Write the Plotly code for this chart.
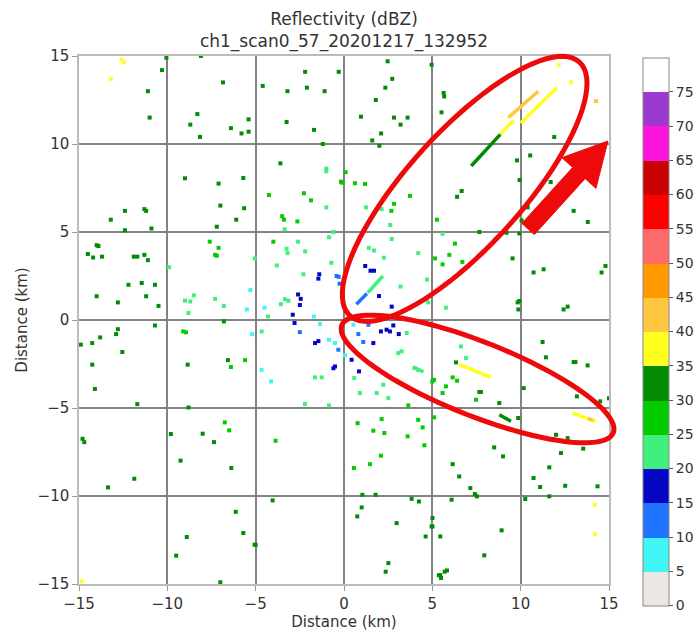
import numpy as np
import plotly.graph_objects as go

# ---------------- data ----------------
title_lines = ["Reflectivity (dBZ)", "ch1_scan0_57_20201217_132952"]
axis_label = "Distance (km)"
tick_vals = [-15, -10, -5, 0, 5, 10, 15]
cbar_ticks = [0, 5, 10, 15, 20, 25, 30, 35, 40, 45, 50, 55, 60, 65, 70, 75]

# colour bands, each 5 dBZ wide from 0 to 80
band_colors = ["#ebe7e2", "#3ff5f5", "#1f74ff", "#0505c4", "#40f07c", "#00cc00",
               "#038c03", "#ffff22", "#ffc640", "#ff9900", "#ff6a6a", "#ff0000",
               "#c80000", "#ff14dc", "#9a3ad0", "#ffffff"]

# gate positions (km) and reflectivity (dBZ)
pt_x = [-12.6, -12.45, -13.2, -10.05, -10.3, -11.1, -11.0, -6.85, -8.3, -8.7, -8.15, -6.4, -5.8, -5.4, -5.4, -8.1,
        -9.0, -7.1, -5.7, -7.0, -5.65, -6.1, -7.2, -12.4, -11.3, -11.2, -13.2, -12.4, -10.9,
        -14.0, -13.9, -14.5, -14.2, -13.7, -11.9, -11.7, -11.3, -11.1, -12.2, -11.45, -10.7, -14.0, -12.8, -11.2, -10.5,
        -7.6, -7.1, -7.3, -7.2, -9.9, -5.05, -8.5, -9.0, -8.7, -7.3, -6.8, -8.8, -5.3, -5.5,
        -4.6, -2.2, -0.3, -3.2, -2.1, -1.1, -3.25, -1.7, 2.47, 2.73, 2.34, 1.8, 0.96, 2.83, 3.6, 3.2, 2.1, 1.6, 2.0, 4.96,
        -1.2, -3.6, -1.0, -1.0, 0.09, -0.17, -0.1, 0.62, 1.19, -4.25, -2.27, -1.87, -1.0, 3.73, 2.83, 2.13, 2.68, 1.24,
        -3.5, -3.4, -2.64, -3.36, -0.6, 2.62, -4.0, -2.6, -0.85, -3.25, -3.2, -2.2, -3.8, -2.3, 2.7, 1.4, 1.7, 2.26,
        4.2, 4.7, 3.2, -0.72, 1.2, 1.5, 1.7, -1.4, -1.45, -0.42, -0.3, -0.25, -2.6, -2.45, -2.5, -2.9, -1.7, 1.98, 2.7,
        -3.34, -3.15, -3.57, -4.3, -4.5, 4.77,
        12.15, 12.85, 14.26, 5.64, 5.67, 5.52, 11.9, 10.54, 9.79, 9.94, 11.7, 6.66, 6.4, 10.4, 13.0, 13.8, 10.05, 5.26,
        7.66, 9.2, 9.92, 5.58, 6.28, 5.96, 5.15, 5.58, 6.7, 9.54, 10.73, 11.3, 14.8, 14.58, 9.92, 9.83, 9.87, 12.43,
        12.66, 5.77,
        -14.9, -14.25, -13.8, -12.9, -12.8, -10.7, -12.55, -14.25, -14.1, -11.7, -9.1, -8.95, -6.8, -5.2, -8.85, -6.57,
        -5.6, -6.4, -8.8, -14.8, -14.7, -11.87, -13.36, -9.8, -8.0, -6.75, -6.5, -7.36, -9.25, -6.38, -6.13, -5.7,
        -5.06, -8.9, -9.5, -7.0, -14.85,
        -2.8, -2.5, -1.36, -1.64, -1.45, -0.85, -0.51, -0.32, 0.05, -0.51, -0.6, 0.43, 0.85, 0.53, 1.38, 0.81, 1.09,
        1.66, 2.09, 2.41, 2.6, 3.1, 2.79, 3.55, 3.07, 3.26, 4.0, 4.2, -4.66, -4.66, -4.13, -1.64, -1.26, 0.58, 0.9,
        1.85, 2.51, -2.21, -0.85, 2.22, 3.64, 0.77, 2.13, 1.66, 2.28, 4.2, 4.45, 3.6, 4.55, 2.09, 1.47, 0.56, -3.87,
        -4.04, 1.04, 1.79, 1.0, 0.75, 3.83, 4.24, 2.98, 4.96, 4.62, 2.51, -5.0, 2.36, 5.37, 5.7,
        11.24, 11.43, 13.0, 13.1, 13.79, 6.62, 6.9, 6.34, 5.0, 5.1, 6.15, 6.4, 5.77, 5.58, 7.66, 7.75, 7.47, 8.79,
        10.17, 13.18, 14.5, 15.0, 5.1, 9.86, 12.0, 12.66, 13.54, 12.28, 8.5, 9.0, 6.15, 11.62, 6.52, 10.73, 11.1,
        12.52, 14.35, 7.15, 7.41, 7.52, 6.09, 10.26, 11.62, 14.2, 14.2, 5.01, 5.01, 5.45, 8.92, 7.94, 5.83, 5.45, 5.49]
pt_y = [14.8, 14.65, 13.7, 14.9, 14.2, 13.0, 11.5, 13.5, 11.7, 11.1, 10.4, 10.9, 10.6, 11.4, 10.7, 15.0,
        8.05, 7.75, 8.07, 6.5, 6.35, 5.7, 5.3, 6.2, 6.3, 6.2, 5.7, 5.1, 5.2,
        4.25, 4.2, 3.75, 3.55, 3.6, 3.6, 3.6, 3.7, 3.4, 2.0, 2.1, 2.0, 1.35, 1.0, 1.35, 0.8,
        4.45, 4.1, 3.7, 3.65, 3.0, 3.5, 1.4, 1.1, 1.05, 1.2, 0.8, 0.4, 1.7, 0.6,
        13.3, 14.1, 14.1, 13.0, 13.2, 13.0, 11.25, 10.8, 14.7, 13.7, 13.2, 12.5, 11.55, 11.5, 11.5, 11.1, 10.6, 10.2, 9.9, 14.5,
        10.0, 8.9, 8.6, 8.45, 8.4, 7.86, 7.8, 7.77, 7.73, 7.1, 7.2, 6.8, 6.4, 7.05, 6.6, 6.3, 6.2, 6.4,
        5.9, 5.7, 5.6, 5.15, 5.0, 5.4, 4.45, 4.45, 4.7, 4.05, 3.8, 3.9, 3.1, 2.6, 4.6, 4.1, 3.95, 3.54,
        3.8, 2.3, 1.9, 3.25, 3.07, 2.8, 2.8, 2.6, 2.35, 2.5, 2.45, 2.06, 1.45, 1.2, 0.85, 0.3, 0.2, 1.36, 0.76,
        1.18, 1.1, 0.9, 0.2, 0.7, 1.0,
        14.5, 13.5, 12.44, 12.9, 12.7, 11.8, 10.4, 9.35, 9.07, 7.95, 7.84, 7.33, 7.0, 6.4, 6.2, 5.57, 5.66, 5.7,
        5.0, 4.96, 4.92, 4.9, 4.34, 3.7, 3.5, 3.16, 3.3, 3.5, 2.7, 2.88, 3.07, 2.7, 1.08, 1.0, 0.6, 0.6,
        0.76, 0.7,
        -1.4, -1.31, -0.99, -0.8, -0.52, -0.31, -1.82, -2.54, -3.92, -4.78, -0.65, -0.7, -0.08, -0.8, -2.54, -2.28,
        -2.28, -2.67, -4.97, -6.75, -6.94, -9.02, -9.51, -6.48, -6.46, -5.82, -6.27, -6.94, -7.99, -8.41, -10.9, -12.1,
        -12.77, -12.33, -13.39, -14.9, -14.85,
        -0.17, -0.69, -0.23, -1.31, -1.2, -1.12, -1.31, -1.69, -2.0, -2.64, -2.74, -2.26, -2.92, -0.27, -0.27, -0.8, -1.25,
        -1.31, -0.65, -0.55, -0.65, -0.8, -0.31, -0.74, -1.88, -1.78, -2.73, -2.83, -0.65, -2.83, -3.49, -3.26, -3.26, -3.3, -4.15,
        -4.15, -4.44, -4.78, -4.85, -3.68, -4.85, -5.86, -5.63, -6.29, -6.42, -5.67, -6.1, -6.61, -7.12, -7.71, -8.19, -8.41, -6.86,
        -10.25, -9.93, -9.93, -10.65, -11.16, -10.16, -10.31, -11.54, -11.73, -12.3, -13.81, -12.77, -14.3, -14.5, -14.3,
        -1.25, -2.12, -2.39, -2.39, -2.58, -1.5, -2.16, -2.41, -3.49, -3.4, -3.26, -3.45, -3.77, -4.15, -4.09, -4.09, -4.53, -4.72,
        -3.87, -4.34, -4.62, -4.44, -5.53, -5.57, -6.52, -6.71, -7.31, -7.56, -7.24, -7.75, -8.19, -8.37, -8.89, -8.98, -9.49,
        -9.42, -9.45, -9.55, -9.89, -10.02, -10.21, -10.17, -10.02, -10.5, -12.16, -11.25, -11.73, -12.3, -11.95, -13.37, -14.23, -14.5, -14.66]
pt_dbz = [38, 38, 38, 32, 32, 32, 32, 32, 32, 32, 32, 32, 32, 32, 32, 32,
          32, 32, 32, 32, 32, 32, 32, 32, 32, 32, 32, 32, 32,
          32, 32, 32, 32, 32, 32, 32, 32, 32, 32, 32, 32, 32, 32, 32, 32,
          27, 27, 27, 27, 22, 22, 22, 22, 22, 22, 22, 22, 7, 7,
          32, 32, 32, 32, 32, 32, 32, 32, 32, 32, 32, 32, 32, 32, 32, 32, 32, 32, 32, 32,
          32, 32, 22, 22, 27, 27, 27, 27, 27, 27, 27, 27, 22, 27, 27, 22, 27, 22,
          27, 27, 27, 22, 22, 22, 27, 22, 22, 22, 22, 22, 22, 22, 22, 22, 22, 22,
          22, 22, 22, 22, 17, 17, 17, 17, 17, 12, 12, 12, 17, 17, 17, 17, 7, 17, 17,
          22, 22, 22, 22, 7, 22,
          38, 38, 40, 32, 32, 32, 32, 32, 32, 32, 32, 32, 32, 32, 32, 32, 32, 27,
          32, 32, 32, 22, 27, 27, 27, 27, 27, 32, 32, 32, 32, 32, 32, 32, 32, 32,
          32, 22,
          32, 32, 32, 32, 32, 32, 32, 32, 32, 32, 27, 27, 32, 7, 32, 32,
          27, 27, 32, 32, 32, 32, 32, 32, 32, 27, 27, 32, 32, 32, 32, 32,
          32, 32, 32, 32, 38,
          17, 12, 7, 17, 17, 7, 7, 12, 7, 17, 17, 17, 17, 7, 12, 12, 12,
          17, 17, 17, 17, 17, 17, 22, 22, 22, 22, 22, 22, 7, 7, 22, 22, 22, 22,
          22, 22, 22, 22, 22, 27, 27, 27, 27, 27, 27, 27, 27, 27, 27, 27, 27, 27,
          32, 32, 32, 32, 32, 32, 32, 32, 32, 32, 32, 32, 32, 32, 32,
          32, 32, 32, 32, 32, 22, 22, 32, 27, 27, 27, 27, 27, 27, 32, 32, 27, 32,
          32, 32, 32, 32, 27, 32, 32, 32, 32, 32, 32, 32, 32, 32, 32, 32, 32,
          32, 32, 32, 32, 32, 32, 32, 32, 38, 38, 32, 32, 32, 32, 32, 32, 32, 32]

# radial streaks of consecutive gates: start/end (km) and dBZ
streak_x0 = [7.2, 8.85, 9.3, 10.0, 0.7, 1.35, 6.52, 12.94, 13.8, 8.79, 3.9]
streak_y0 = [8.75, 10.55, 11.5, 11.2, 0.9, 1.55, -2.54, -5.29, -5.6, -5.38, -2.67]
streak_x1 = [8.85, 9.6, 11.0, 12.05, 1.3, 2.2, 8.32, 14.26, 14.1, 9.45, 4.5]
streak_y1 = [10.55, 11.35, 13.0, 13.2, 1.5, 2.5, -3.26, -5.76, -5.7, -5.76, -2.95]
streak_dbz = [32, 38, 42, 38, 12, 22, 38, 38, 42, 32, 22]

# hand-drawn highlight marks (km): ellipse centre, semi-axes, angle (deg)
ell_cx = [6.83, 7.56]
ell_cy = [7.45, -3.35]
ell_a = [9.7, 8.27]
ell_b = [3.25, 2.1]
ell_ang = [48, -21.7]
arrow_tail = (10.42, 5.17)
arrow_tip = (14.94, 10.17)

# ---------------- figure ----------------
X0, X1, Y0, Y1 = -15, 15, -15, 15


def to_paper(x, y):
    return (x - X0) / (X1 - X0), (y - Y0) / (Y1 - Y0)


def band_color(v):
    return band_colors[min(int(v // 5), len(band_colors) - 1)]


n = len(band_colors)
cscale = []
for i, c in enumerate(band_colors):
    cscale.append([i / n, c])
    cscale.append([(i + 1) / n, c])

fig = go.Figure()

fig.add_trace(go.Scatter(
    x=pt_x, y=pt_y, mode="markers",
    marker=dict(size=4, symbol="square", color=pt_dbz, colorscale=cscale, cmin=0, cmax=80,
                showscale=True,
                colorbar=dict(
                    thickness=26, lenmode="pixels", len=548,
                    x=(643 - 79) / 530, xanchor="left", xpad=0,
                    y=(584 - 331.5) / 528, yanchor="middle", ypad=0,
                    tickmode="array", tickvals=cbar_ticks, ticks="outside", ticklen=4,
                    tickcolor="#555", tickfont=dict(size=14, color="#333", family="DejaVu Sans"),
                    outlinewidth=1, outlinecolor="#888")),
    showlegend=False, hoverinfo="skip"))

for x0, y0, x1, y1, v in zip(streak_x0, streak_y0, streak_x1, streak_y1, streak_dbz):
    fig.add_trace(go.Scatter(x=[x0, x1], y=[y0, y1], mode="lines",
                             line=dict(color=band_color(v), width=3.5),
                             showlegend=False, hoverinfo="skip"))

shapes = []
t = np.linspace(0, 2 * np.pi, 90)
for cx, cy, a, b, ang in zip(ell_cx, ell_cy, ell_a, ell_b, ell_ang):
    th = np.deg2rad(ang)
    ex = cx + a * np.cos(t) * np.cos(th) - b * np.sin(t) * np.sin(th)
    ey = cy + a * np.cos(t) * np.sin(th) + b * np.sin(t) * np.cos(th)
    pts = [to_paper(px, py) for px, py in zip(ex, ey)]
    path = "M " + " L ".join(f"{p[0]:.4f},{p[1]:.4f}" for p in pts) + " Z"
    shapes.append(dict(type="path", xref="paper", yref="paper", path=path,
                       line=dict(color="#ee0a0a", width=5), fillcolor="rgba(0,0,0,0)"))

# arrow polygon
tx, ty = arrow_tail
hx, hy = arrow_tip
d = np.array([hx - tx, hy - ty])
L = np.hypot(*d)
u = d / L
pn = np.array([-u[1], u[0]])
head_len, shaft_w, head_w = 2.45, 0.95, 2.6
base = np.array([hx, hy]) - u * head_len
tail = np.array([tx, ty])
poly = [tail + pn * shaft_w / 2, base + pn * shaft_w / 2, base + pn * head_w / 2,
        np.array([hx, hy]), base - pn * head_w / 2, base - pn * shaft_w / 2, tail - pn * shaft_w / 2]
ppts = [to_paper(p[0], p[1]) for p in poly]
path = "M " + " L ".join(f"{p[0]:.4f},{p[1]:.4f}" for p in ppts) + " Z"
shapes.append(dict(type="path", xref="paper", yref="paper", path=path,
                   line=dict(color="#ee0a0a", width=1), fillcolor="#ee0a0a"))

axis_common = dict(range=[X0, X1], tickmode="array", tickvals=tick_vals,
                   showgrid=True, gridcolor="#828282", gridwidth=1.5,
                   zeroline=False, showline=True, linecolor="#bbbbbb", linewidth=1.5, mirror=True,
                   ticks="outside", ticklen=5, tickcolor="#999",
                   tickfont=dict(size=15, color="#333", family="DejaVu Sans"),
                   title=dict(text=axis_label, font=dict(size=15, color="#333", family="DejaVu Sans")))

fig.update_layout(
    width=699, height=635,
    margin=dict(l=79, r=90, t=56, b=51, autoexpand=False),
    paper_bgcolor="white", plot_bgcolor="white",
    title=dict(text="<br>".join(title_lines), x=344 / 699, xanchor="center",
               y=1 - 25 / 635, yanchor="middle", yref="container",
               font=dict(size=17, color="#333", family="DejaVu Sans")),
    xaxis=dict(axis_common, title_standoff=2),
    yaxis=dict(axis_common, title_standoff=6),
    shapes=shapes,
)

fig.write_html("out.html")
